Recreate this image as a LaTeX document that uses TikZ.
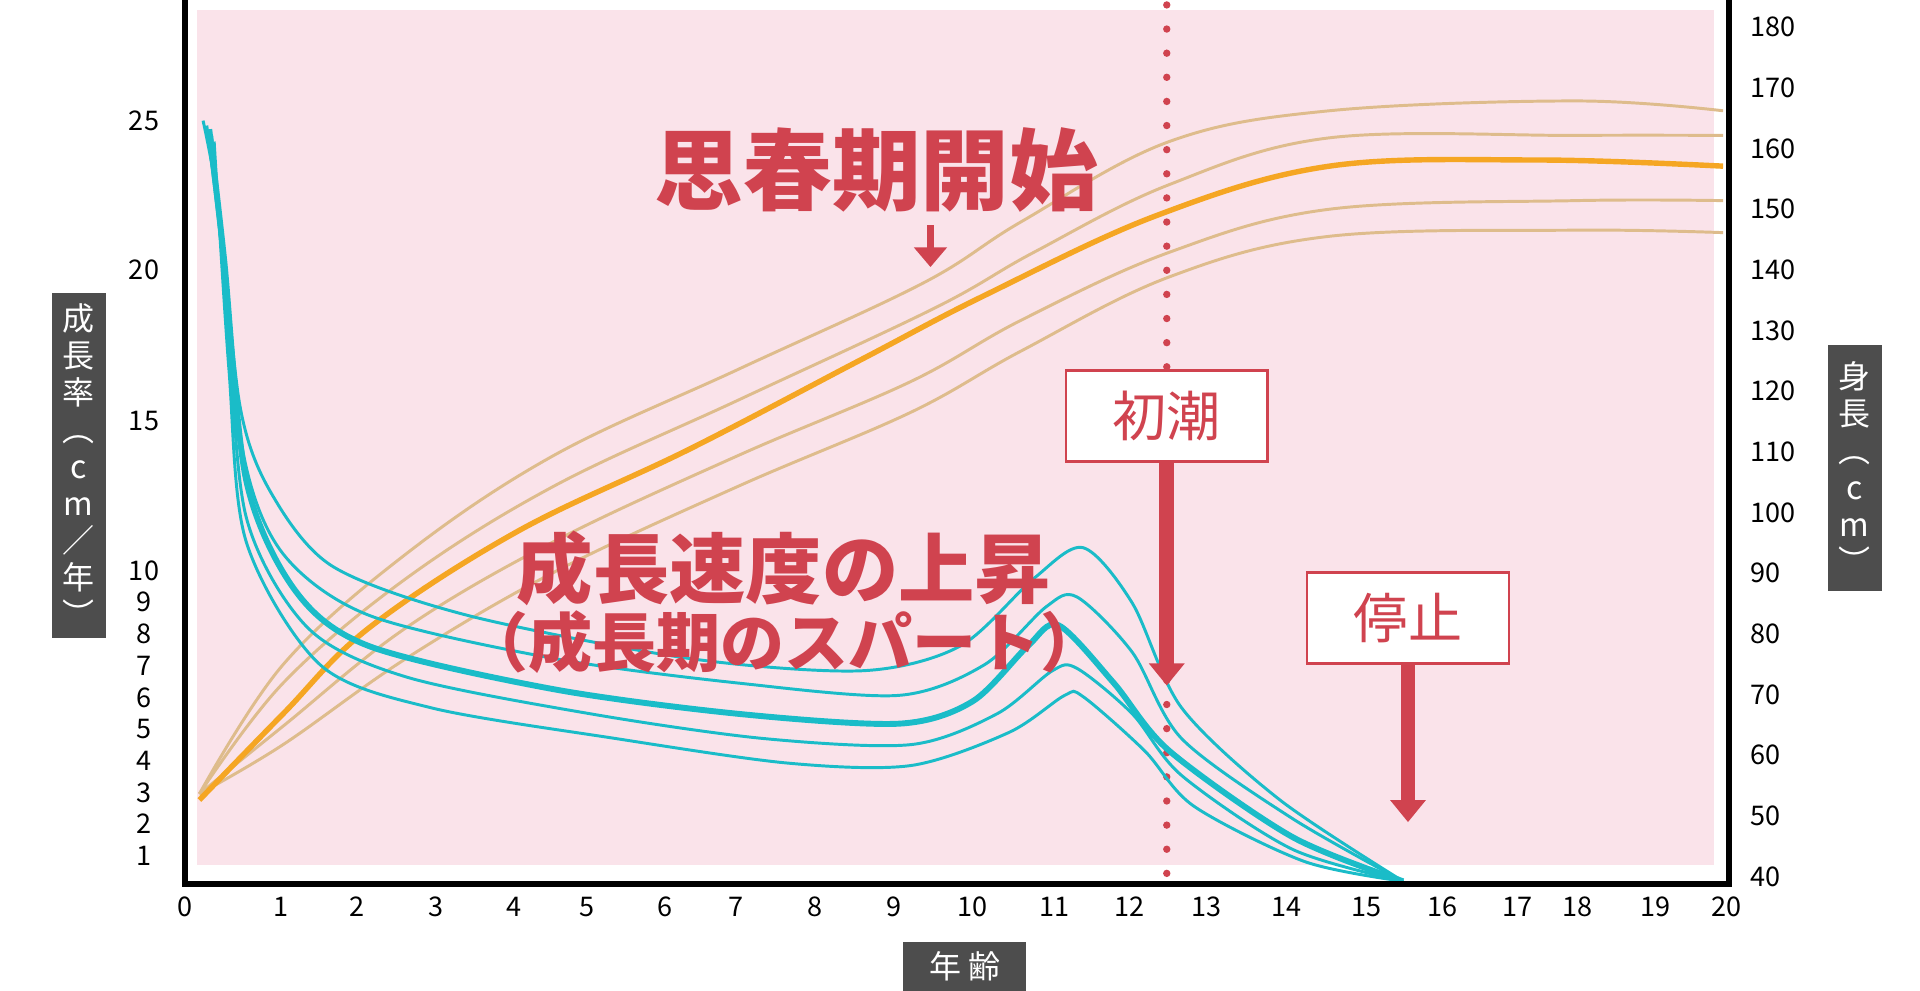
\documentclass[tikz,border=0pt]{standalone}
\usepackage{fontspec}
\setmainfont{Noto Sans CJK JP}
\usepackage{tikz}
\usetikzlibrary{arrows.meta}
\definecolor{bgpink}{RGB}{250,227,234}
\definecolor{warmred}{RGB}{208,67,79}
\definecolor{tealc}{RGB}{26,188,200}
\definecolor{tanc}{RGB}{222,188,140}
\definecolor{orangec}{RGB}{245,166,35}
\definecolor{darkbox}{RGB}{77,77,77}
\tikzset{
  growthline/.style={tealc,line width=1.2pt},
  heightline/.style={tanc,line width=1.2pt},
  labelbox/.style={fill=darkbox,text=white,inner sep=3pt,font=\fontsize{13}{15}\selectfont},
  calloutbox/.style={draw=warmred,fill=white,text=warmred,line width=1pt,minimum width=82pt,minimum height=37pt,font=\fontsize{22}{24}\selectfont},
  ticklabel/.style={font=\fontsize{11}{12}\selectfont,inner sep=1pt},
  bigtext/.style={text=warmred,font=\bfseries\fontsize{36}{38}\selectfont}
}
\begin{document}
\begin{tikzpicture}[x=0.5pt,y=0.5pt,yscale=-1]
  \useasboundingbox (0,0) rectangle (1560,805);
  % background
  \fill[bgpink] (160,8) rectangle (1393,703);
  % dotted line
  \draw[warmred,line width=3pt,line cap=round,dash pattern=on 0pt off 9.8pt] (948,4) -- (948,718);
  % height curves
  \draw[heightline] plot[smooth,tension=0.6] coordinates {(162,645) (230,540) (330,450) (450,370) (600,300) (750,230) (830,180) (950,115) (1080,90) (1280,82) (1400,90)};
  \draw[heightline] plot[smooth,tension=0.6] coordinates {(162,645) (230,555) (330,470) (450,395) (600,325) (760,250) (840,205) (950,150) (1080,112) (1280,110) (1400,110)};
  \draw[heightline] plot[smooth,tension=0.6] coordinates {(162,645) (230,590) (330,510) (450,440) (600,370) (740,310) (830,260) (950,205) (1080,170) (1280,163) (1400,163)};
  \draw[heightline] plot[smooth,tension=0.6] coordinates {(162,645) (230,605) (330,535) (450,465) (600,395) (740,335) (830,285) (950,225) (1080,192) (1280,187) (1400,189)};
  \draw[orangec,line width=2.2pt] plot[smooth,tension=0.6] coordinates {(162,650) (230,580) (300,510) (420,432) (560,365) (700,292) (800,240) (940,175) (1080,135) (1250,130) (1400,135)};
  % growth curves
  \draw[growthline] plot[smooth,tension=0.5] coordinates {(165,98) (178,170) (195,330) (220,400) (270,460) (380,500) (560,535) (700,545) (780,525) (840,470) (880,445) (920,490) (960,575) (1040,650) (1140,716)};
  \draw[growthline] plot[smooth,tension=0.5] coordinates {(168,102) (180,200) (198,370) (230,450) (300,500) (450,535) (600,555) (730,565) (800,540) (850,493) (875,485) (920,530) (960,600) (1050,665) (1140,716)};
  \draw[tealc,line width=2.4pt] plot[smooth,tension=0.5] coordinates {(170,105) (182,210) (200,390) (240,480) (300,525) (450,560) (600,580) (730,588) (790,570) (835,525) (860,508) (905,555) (950,610) (1050,680) (1140,716)};
  \draw[growthline] plot[smooth,tension=0.5] coordinates {(172,110) (185,260) (200,420) (250,510) (330,550) (480,580) (620,600) (740,605) (810,580) (855,545) (875,543) (920,580) (960,630) (1050,690) (1140,716)};
  \draw[growthline] plot[smooth,tension=0.5] coordinates {(174,115) (186,300) (200,440) (260,540) (350,575) (500,600) (640,620) (740,622) (820,595) (865,565) (880,566) (930,610) (970,655) (1060,700) (1140,716)};
  % axes
  \draw[black,line width=2.5pt] (150,0) -- (150,718) -- (1405,718) -- (1405,0);
  % x labels
  \foreach \xp/\lab in {150/0,228/1,290/2,354/3,418/4,477/5,540/6,598/7,662/8,726/9,790/10,857/11,918/12,980/13,1045/14,1110/15,1172/16,1233/17,1282/18,1345/19,1403/20}
    \node[ticklabel] at (\xp,737) {\lab};
  % left labels
  \foreach \yp/\lab in {98/25,219/20,342/15,464/10,489/9,515/8,541/7,567/6,592/5,618/4,644/3,669/2,695/1}
    \node[ticklabel] at (117,\yp) {\lab};
  % right labels
  \foreach \i in {0,...,14}
    \pgfmathtruncatemacro{\val}{180-10*\i}
    \node[ticklabel,anchor=west] at (1420,22+49.3*\i) {\val};
  % axis titles
  \node[labelbox,minimum width=22pt,minimum height=140pt,align=center] (rate) at (64,378) {成\\長\\率\\︵\\c\\m\\／\\年\\︶};
  \node[labelbox,minimum width=22pt,minimum height=100pt,align=center] (height) at (1507,380) {身\\長\\︵\\c\\m\\︶};
  \node[labelbox,minimum width=50pt,minimum height=20pt] (age) at (784,785) {年 齢};
  % titles and callouts
  \node[bigtext] (puberty) at (712,138) {思春期開始};
  \draw[warmred,line width=2.5pt,-{Triangle[width=13pt,length=8pt]}] (756,183) -- (756,217);
  \node[calloutbox] (menarche) at (948,338) {初潮};
  \draw[warmred,line width=6pt,-{Triangle[width=14pt,length=9pt]}] (menarche.south) -- (948,557);
  \node[calloutbox] (halt) at (1144,502) {停止};
  \draw[warmred,line width=6pt,-{Triangle[width=14pt,length=9pt]}] (halt.south) -- (1144,668);
  \node[bigtext,font=\bfseries\fontsize{31}{33}\selectfont] (rise) at (637,462) {成長速度の上昇};
  \node[bigtext,font=\bfseries\fontsize{26}{28}\selectfont] (spurt) at (637,522) {（成長期のスパート）};
\end{tikzpicture}
\end{document}
